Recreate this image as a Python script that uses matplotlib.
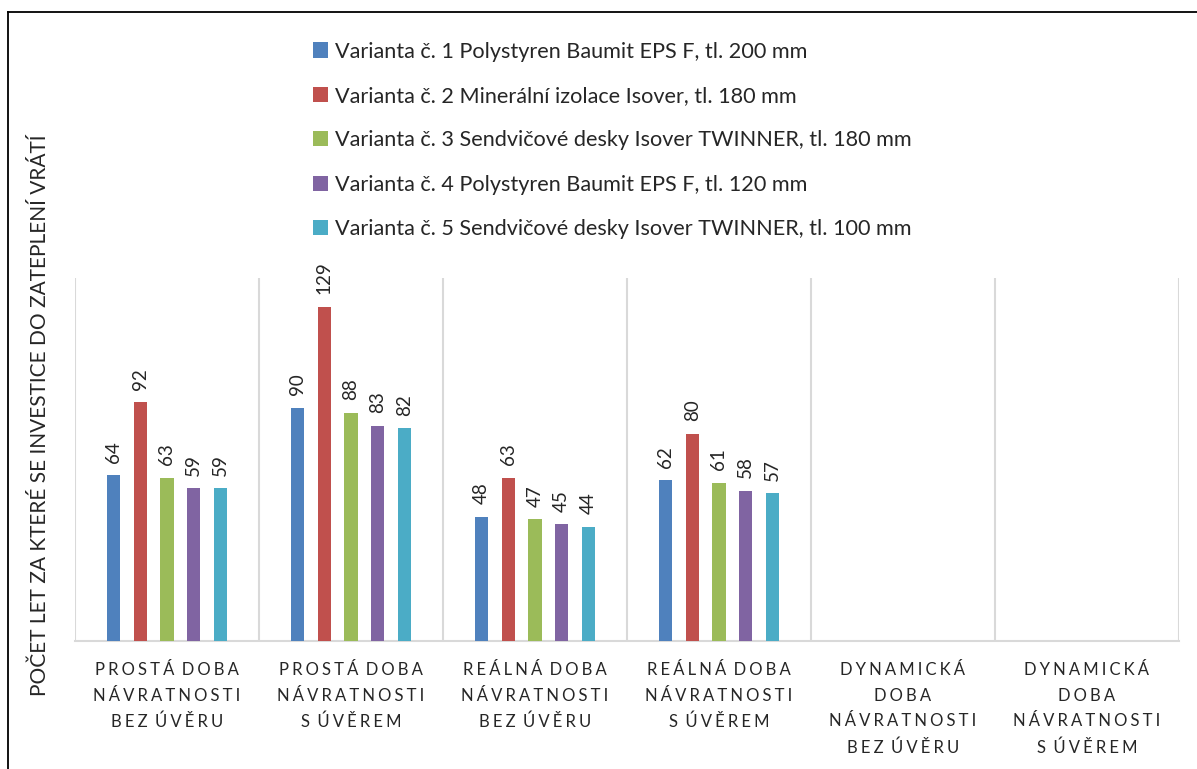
import numpy as np
import matplotlib.pyplot as plt
from matplotlib.lines import Line2D

############# DATA ###############
CATEGORIES = [
    "PROSTÁ DOBA\nNÁVRATNOSTI\nBEZ ÚVĚRU",
    "PROSTÁ DOBA\nNÁVRATNOSTI\nS ÚVĚREM",
    "REÁLNÁ DOBA\nNÁVRATNOSTI\nBEZ ÚVĚRU",
    "REÁLNÁ DOBA\nNÁVRATNOSTI\nS ÚVĚREM",
    "DYNAMICKÁ\nDOBA\nNÁVRATNOSTI\nBEZ ÚVĚRU",
    "DYNAMICKÁ\nDOBA\nNÁVRATNOSTI\nS ÚVĚREM",
]
SERIES_NAMES = [
    "Varianta č. 1 Polystyren Baumit EPS F, tl. 200 mm",
    "Varianta č. 2 Minerální izolace Isover, tl. 180 mm",
    "Varianta č. 3 Sendvičové desky Isover TWINNER, tl. 180 mm",
    "Varianta č. 4 Polystyren Baumit EPS F, tl. 120 mm",
    "Varianta č. 5 Sendvičové desky Isover TWINNER, tl. 100 mm",
]
V1 = [64, 90, 48, 62, None, None]
V2 = [92, 129, 63, 80, None, None]
V3 = [63, 88, 47, 61, None, None]
V4 = [59, 83, 45, 58, None, None]
V5 = [59, 82, 44, 57, None, None]
Y_LABEL = "POČET LET ZA KTERÉ SE INVESTICE DO ZATEPLENÍ VRÁTÍ"
##################################

COLORS = ["#4F81BD", "#C0504D", "#9BBB59", "#8064A2", "#4BACC6"]
FONT = ["Lato", "DejaVu Sans"]

plt.rcParams["font.family"] = FONT


def spaced(label):
    # emulate Excel letter spacing with thin spaces
    out = []
    for line in label.split("\n"):
        words = ["\u2009\u200a".join(w) for w in line.split(" ")]
        out.append(" \u2009\u200a".join(words))
    return "\n".join(out)


fig = plt.figure(figsize=(11.97, 7.69), dpi=100)
ax = fig.add_axes([75 / 1197, 1 - 641 / 769, (1179 - 75) / 1197, (641 - 278) / 769])

series = [V1, V2, V3, V4, V5]
x = np.arange(len(CATEGORIES))
step = 0.145
width = 0.072

for i, (vals, name, col) in enumerate(zip(series, SERIES_NAMES, COLORS)):
    pos = x + (i - 2) * step
    h = [np.nan if v is None else v for v in vals]
    ax.bar(pos, h, width=width, color=col, label=name, zorder=3)
    for p, v in zip(pos, vals):
        if v is None:
            continue
        ax.annotate(str(v), (p, v), xytext=(0, 9), textcoords="offset points",
                    rotation=90, ha="center", va="bottom", fontsize=13.5,
                    color="#262626")

ax.set_xlim(-0.5, len(CATEGORIES) - 0.5)
ax.set_ylim(0, 140)
ax.set_yticks([])

# category separators
for b in np.arange(-0.5, len(CATEGORIES) + 0.5, 1.0):
    ax.axvline(b, color="#D9D9D9", lw=1.5, zorder=1)

for s in ["top", "left", "right"]:
    ax.spines[s].set_visible(False)
ax.spines["bottom"].set_color("#D9D9D9")
ax.spines["bottom"].set_linewidth(1.5)

ax.set_xticks(x)
ax.set_xticklabels([spaced(c) for c in CATEGORIES], fontsize=12,
                   linespacing=1.75, color="#262626", va="top")
ax.tick_params(axis="x", length=0, pad=15)

fig.text(40 / 1197, 1 - 415 / 769, Y_LABEL, rotation=90, ha="center",
         va="center", fontsize=15, color="#262626")

ax.legend(loc="upper left", bbox_to_anchor=(293 / 1197, 1 - 22 / 769),
          bbox_transform=fig.transFigure, frameon=False, fontsize=15.6,
          handlelength=0.7, handleheight=0.7, handletextpad=0.35,
          labelspacing=1.13, labelcolor="#262626")

# outer border (left and top)
fig.add_artist(Line2D([8 / 1197, 8 / 1197], [0, 1 - 12 / 769],
                      transform=fig.transFigure, color="black", lw=1.3))
fig.add_artist(Line2D([8 / 1197, 1], [1 - 12 / 769, 1 - 12 / 769],
                      transform=fig.transFigure, color="black", lw=1.3))

fig.savefig("out.png", dpi=100)
